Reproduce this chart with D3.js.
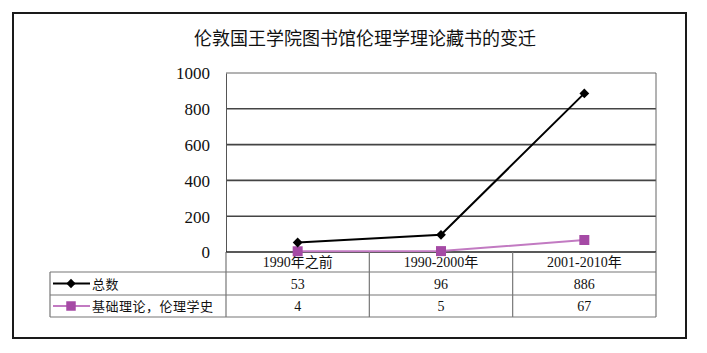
<!DOCTYPE html>
<html>
<head>
<meta charset="utf-8">
<script src="https://cdn.jsdelivr.net/npm/d3@7/dist/d3.min.js"></script>
<style>
  body { margin: 0; background: #fff; }
  svg text { font-family: "Liberation Serif", "Noto Sans CJK SC", serif; fill: #111; }
</style>
</head>
<body>
<svg id="chart" width="707" height="353"></svg>
<script>
// data
var categories = ["1990年之前", "1990-2000年", "2001-2010年"];
var seriesNames = ["总数", "基础理论，伦理学史"];
var totalValues = [53, 96, 886];
var basicValues = [4, 5, 67];
var yTicks = [0, 200, 400, 600, 800, 1000];
var title = "伦敦国王学院图书馆伦理学理论藏书的变迁";

var svg = d3.select("#chart");
var plot = { left: 226, right: 656, top: 73, bottom: 252 };
var rowH = [20, 23, 22];   // category row, two data rows
var tableLeft = 50;

var x = d3.scaleBand().domain(categories).range([plot.left, plot.right]);
var y = d3.scaleLinear().domain([0, 1000]).range([plot.bottom, plot.top]);

// outer frame
svg.append("rect").attr("x", 13).attr("y", 13).attr("width", 673).attr("height", 325)
  .attr("fill", "none").attr("stroke", "#1a1a1a").attr("stroke-width", 2);

svg.append("text").attr("x", 365).attr("y", 45).attr("text-anchor", "middle")
  .style("font-family", "'Noto Sans CJK SC', sans-serif").style("font-size", "18px")
  .text(title);

// gridlines + axis labels
var grid = svg.append("g");
grid.selectAll("line").data(yTicks.filter(function (d) { return d > 0; })).join("line")
  .attr("x1", plot.left).attr("x2", plot.right)
  .attr("y1", function (d) { return y(d); }).attr("y2", function (d) { return y(d); })
  .attr("stroke", function (d) { return d === 1000 ? "#666" : "#444"; })
  .attr("stroke-width", function (d) { return d === 1000 ? 1 : 1.6; });

var yAxis = d3.axisLeft(y).tickValues(yTicks).tickSize(0).tickPadding(16).tickFormat(d3.format("d"));
svg.append("g").attr("transform", "translate(" + plot.left + ",0)").call(yAxis)
  .call(function (g) { g.select(".domain").attr("stroke", "#555"); })
  .selectAll("text").style("font-size", "17px").attr("dy", "0.35em")
  .style("font-family", "'Liberation Serif', serif");

svg.append("line").attr("x1", plot.right).attr("x2", plot.right)
  .attr("y1", plot.top).attr("y2", plot.bottom).attr("stroke", "#666");

// table
var tbl = svg.append("g").attr("stroke", "#777").attr("stroke-width", 1.2);
var rowY = [plot.bottom, plot.bottom + rowH[0], plot.bottom + rowH[0] + rowH[1], plot.bottom + rowH[0] + rowH[1] + rowH[2]];
tbl.append("line").attr("x1", plot.left).attr("x2", plot.right).attr("y1", rowY[0]).attr("y2", rowY[0]).attr("stroke", "#222").attr("stroke-width", 1.6);
[1, 2, 3].forEach(function (i) {
  tbl.append("line").attr("x1", tableLeft).attr("x2", plot.right).attr("y1", rowY[i]).attr("y2", rowY[i]);
});
var vx = categories.map(function (c) { return x(c); }).concat([plot.right]);
tbl.selectAll(".v").data(vx).join("line").attr("class", "v")
  .attr("x1", function (d) { return d; }).attr("x2", function (d) { return d; })
  .attr("y1", rowY[0]).attr("y2", rowY[3]);
tbl.append("line").attr("x1", tableLeft).attr("x2", tableLeft).attr("y1", rowY[1]).attr("y2", rowY[3]);

svg.append("g").selectAll("text").data(categories).join("text")
  .attr("x", function (d) { return x(d) + x.bandwidth() / 2; })
  .attr("y", rowY[0] + rowH[0] / 2 + 5).attr("text-anchor", "middle")
  .style("font-size", "14px").text(function (d) { return d; });

// diamond = square turned 45deg
var series = [
  { name: seriesNames[0], values: totalValues, line: "#000", fill: "#000", shape: d3.symbolSquare, size: 48, rot: 45 },
  { name: seriesNames[1], values: basicValues, line: "#c27ac2", fill: "#a54aa5", shape: d3.symbolSquare, size: 100, rot: 0 }
];

series.forEach(function (s, i) {
  var cy = rowY[i + 1] + rowH[i + 1] / 2;
  svg.append("g").selectAll("text").data(s.values).join("text")
    .attr("x", function (d, j) { return x(categories[j]) + x.bandwidth() / 2; })
    .attr("y", cy + 5).attr("text-anchor", "middle").style("font-size", "14px")
    .text(function (d) { return d; });
  // legend key
  svg.append("line").attr("x1", 53).attr("x2", 90).attr("y1", cy).attr("y2", cy)
    .attr("stroke", s.line).attr("stroke-width", 2);
  svg.append("path").attr("d", d3.symbol().type(s.shape).size(s.size * 0.9)())
    .attr("transform", "translate(71," + cy + ") rotate(" + s.rot + ")").attr("fill", s.fill);
  svg.append("text").attr("x", 92).attr("y", cy + 5).style("font-size", "13px")
    .style("letter-spacing", "0.5px").style("font-family", "'Noto Sans CJK SC', sans-serif")
    .text(s.name);
});

// lines and markers, purple first so black stays on top
[series[1], series[0]].forEach(function (s) {
  var line = d3.line()
    .x(function (d, j) { return x(categories[j]) + x.bandwidth() / 2; })
    .y(function (d) { return y(d); });
  svg.append("path").datum(s.values).attr("d", line)
    .attr("fill", "none").attr("stroke", s.line).attr("stroke-width", 2);
  svg.append("g").selectAll("path").data(s.values).join("path")
    .attr("d", d3.symbol().type(s.shape).size(s.size)())
    .attr("transform", function (d, j) {
      return "translate(" + (x(categories[j]) + x.bandwidth() / 2) + "," + y(d) + ") rotate(" + s.rot + ")";
    })
    .attr("fill", s.fill);
});
</script>
</body>
</html>
